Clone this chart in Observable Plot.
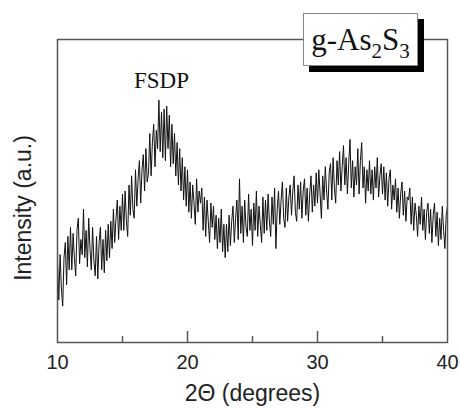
<!DOCTYPE html>
<html>
<head>
<meta charset="utf-8">
<script src="https://cdn.jsdelivr.net/npm/d3@7"></script>
<script src="https://cdn.jsdelivr.net/npm/@observablehq/plot@0.6"></script>
<style>
  html, body { margin: 0; padding: 0; background: #fff; }
  #wrap { position: relative; width: 460px; height: 408px; }
  #tag {
    position: absolute; left: 303px; top: 13px; width: 113px; height: 51px;
    background: #fff; border: 1px solid #888; box-shadow: 6px 6px 0 #000;
    font-family: "Liberation Serif", "Times New Roman", serif; font-size: 31px;
    color: #111; box-sizing: content-box; line-height: 51px; text-align: center;
    white-space: nowrap;
  }
  #tag .sub { font-size: 21px; position: relative; top: 8px; }
</style>
</head>
<body>
<div id="wrap"><div id="chart"></div><div id="tag">g-As<span class="sub">2</span>S<span class="sub">3</span></div></div>
<script>
// 2θ sampling grid of the measured pattern
const twoThetaStart = 10;
const twoThetaStep = 0.1;
// intensity (a.u.), one row per degree
const intensity = [
  27, 14, 29, 18, 12, 28, 33, 19, 35, 24,   // 10
  38, 24, 36, 28, 22, 37, 41, 26, 34, 29,   // 11
  44, 28, 37, 25, 41, 31, 24, 38, 27, 22,   // 12
  35, 21, 33, 38, 24, 34, 23, 37, 27, 39,   // 13
  28, 40, 31, 44, 33, 41, 47, 34, 45, 37,   // 14
  49, 37, 50, 40, 35, 52, 42, 55, 44, 41,   // 15
  57, 45, 54, 60, 46, 57, 62, 50, 64, 53,   // 16
  56, 69, 55, 66, 72, 58, 70, 64, 80, 63,   // 17
  76, 61, 77, 60, 78, 64, 75, 58, 72, 59,   // 18
  69, 55, 66, 52, 64, 50, 61, 47, 58, 45,   // 19
  57, 43, 53, 41, 52, 46, 39, 54, 43, 50,   // 20
  46, 51, 37, 48, 35, 47, 40, 33, 46, 38,   // 21
  45, 34, 42, 31, 41, 33, 44, 30, 39, 28,   // 22
  39, 30, 42, 32, 40, 45, 33, 41, 47, 34,   // 23
  54, 36, 45, 33, 47, 38, 35, 49, 37, 44,   // 24
  32, 46, 37, 50, 35, 45, 39, 33, 48, 36,   // 25
  47, 37, 49, 40, 35, 48, 39, 51, 31, 44,   // 26
  50, 39, 47, 53, 41, 38, 51, 40, 48, 52,   // 27
  42, 50, 55, 43, 40, 52, 44, 53, 41, 50,   // 28
  54, 42, 51, 40, 49, 55, 43, 52, 45, 56,   // 29
  46, 57, 49, 41, 55, 47, 58, 50, 44, 56,   // 30
  59, 47, 61, 51, 46, 60, 52, 63, 50, 58,   // 31
  65, 52, 61, 49, 59, 67, 51, 60, 48, 58,   // 32
  52, 64, 49, 60, 66, 51, 58, 46, 57, 50,   // 33
  60, 49, 57, 47, 58, 51, 61, 48, 55, 59,   // 34
  49, 58, 47, 56, 45, 54, 57, 44, 52, 47,   // 35
  54, 43, 51, 41, 49, 53, 42, 50, 40, 48,   // 36
  47, 51, 39, 48, 37, 46, 42, 35, 45, 39,   // 37
  48, 37, 44, 34, 43, 46, 36, 44, 33, 42,   // 38
  46, 35, 43, 32, 41, 34, 45, 37, 31, 42,   // 39
  45                                        // 40
];
const xTickLabels = [10, 20, 30, 40];
const majorTicks = [20, 30];
const minorTicks = [15, 25, 35];
const annotation = [{x: 18, y: 86.5, text: "FSDP"}];
const xLabel = "2\u0398 (degrees)";
const yLabel = "Intensity (a.u.)";

const data = intensity.map((v, i) => ({t: twoThetaStart + i * twoThetaStep, v}));

const chart = Plot.plot({
  width: 460,
  height: 408,
  marginLeft: 57,
  marginRight: 13,
  marginTop: 39,
  marginBottom: 66,
  style: {fontFamily: "'Liberation Sans', Arial, sans-serif", background: "#fff"},
  x: {domain: [10, 40]},
  y: {domain: [0, 100], axis: null},
  marks: [
    Plot.line(data, {x: "t", y: "v", stroke: "#111", strokeWidth: 1}),
    Plot.ruleX(majorTicks, {x: d => d, insetTop: 292, stroke: "#555", strokeWidth: 1.5}),
    Plot.ruleX(minorTicks, {x: d => d, insetTop: 297, stroke: "#555", strokeWidth: 1.5}),
    Plot.frame({stroke: "#555", strokeWidth: 1.5}),
    Plot.axisX({ticks: xTickLabels, tickSize: 0, tickPadding: 12, fontSize: 20, fill: "#222", tickFormat: d => String(d), label: null}),
    Plot.text(annotation, {x: "x", y: "y", text: "text", fontSize: 23, fontFamily: "'Liberation Serif', 'Times New Roman', serif", fill: "#111"}),
    Plot.text([xLabel], {text: d => d, frameAnchor: "bottom", textAnchor: "middle", lineAnchor: "middle", dy: 51, fontSize: 23, fill: "#222"}),
    Plot.text([yLabel], {text: d => d, frameAnchor: "left", textAnchor: "middle", lineAnchor: "middle", dx: -34, dy: 17, rotate: -90, fontSize: 23, fill: "#222"})
  ]
});
document.getElementById("chart").appendChild(chart);
</script>
</body>
</html>
